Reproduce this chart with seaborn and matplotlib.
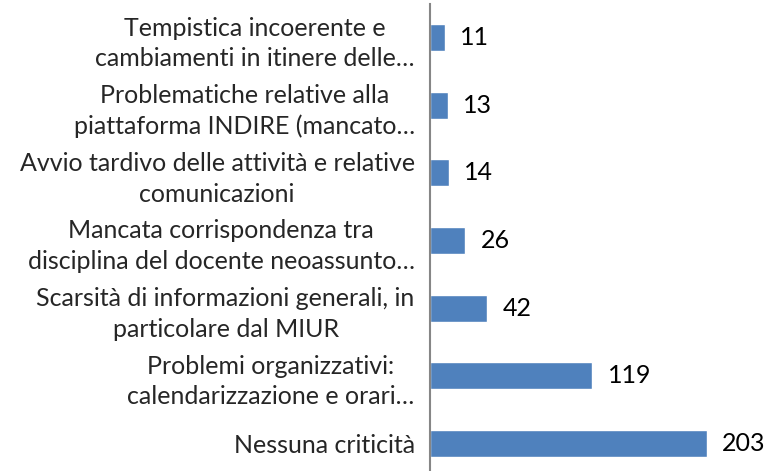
import matplotlib
matplotlib.use("Agg")
import matplotlib.pyplot as plt
import seaborn as sns
import pandas as pd

categories = [
    "Tempistica incoerente e\ncambiamenti in itinere delle…",
    "Problematiche relative alla\npiattaforma INDIRE (mancato…",
    "Avvio tardivo delle attività e relative\ncomunicazioni",
    "Mancata corrispondenza tra\ndisciplina del docente neoassunto…",
    "Scarsità di informazioni generali, in\nparticolare dal MIUR",
    "Problemi organizzativi:\ncalendarizzazione e orari…",
    "Nessuna criticità",
]
counts = [11, 13, 14, 26, 42, 119, 203]

sns.set_theme(style="white")
plt.rcParams["font.family"] = ["Lato", "DejaVu Sans"]

df = pd.DataFrame({"categoria": categories, "n": counts})

fig = plt.figure(figsize=(7.69, 4.71), dpi=100)
ax = fig.add_axes([0.5592, -0.0127, 0.4432, 1.0042])

sns.barplot(data=df, x="n", y="categoria", color="#4F81BD", width=0.4,
            saturation=1, ax=ax, orient="h")

for cont in ax.containers:
    ax.bar_label(cont, labels=[str(v) for v in counts], padding=11,
                 fontsize=18, color="black")

ax.set_xlim(0, 250)
ax.set_xlabel("")
ax.set_ylabel("")
ax.set_xticks([])
ax.tick_params(axis="y", length=0, pad=11, labelsize=18)
for lab in ax.get_yticklabels():
    lab.set_multialignment("center")
    lab.set_linespacing(1.4)

for side in ["top", "right", "bottom"]:
    ax.spines[side].set_visible(False)
ax.spines["left"].set_color("#868686")
ax.spines["left"].set_linewidth(1.5)

fig.savefig("out.png", dpi=100)
